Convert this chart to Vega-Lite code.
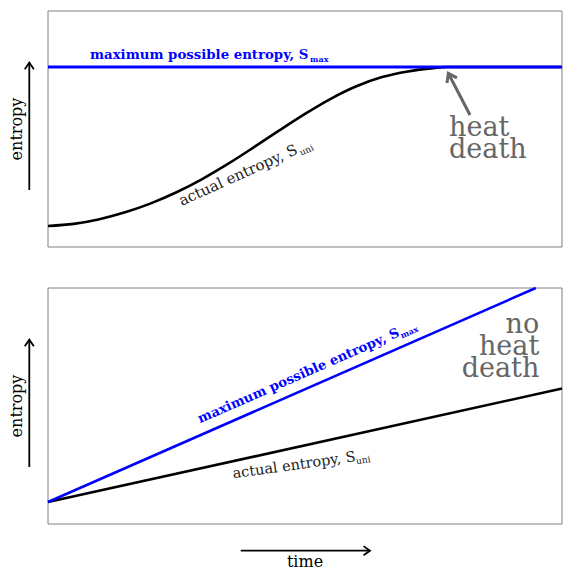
{
  "$schema": "https://vega.github.io/schema/vega-lite/v6.json",
  "autosize": {"type": "none"},
  "padding": {"left": 48, "top": 11, "right": 19, "bottom": 55},
  "width": 514,
  "height": 513,
  "background": "white",
  "config": {
    "view": {"stroke": null},
    "text": {"font": "DejaVu Serif"}
  },
  "resolve": {"scale": {"y": "independent"}},
  "layer": [
    {
      "encoding": {
        "x": {"field": "x", "type": "quantitative", "scale": {"domain": [0, 1], "nice": false, "zero": false}, "axis": null},
        "y": {"field": "y", "type": "quantitative", "scale": {"domain": [0, 1], "range": [236, 0], "nice": false, "zero": false}, "axis": null}
      },
      "layer": [
        {
          "data": {"values": [{"x": 0, "x2": 1, "y": 0, "y2": 1}]},
          "mark": {"type": "rect", "fill": null, "filled": false, "stroke": "#808080", "strokeWidth": 1},
          "encoding": {"x2": {"field": "x2"}, "y2": {"field": "y2"}}
        },
        {
          "data": {"values": [
            {"x": 0, "y": 0.089}, {"x": 0.05, "y": 0.098}, {"x": 0.1, "y": 0.118},
            {"x": 0.15, "y": 0.147}, {"x": 0.2, "y": 0.185}, {"x": 0.25, "y": 0.232},
            {"x": 0.3, "y": 0.288}, {"x": 0.35, "y": 0.352}, {"x": 0.4, "y": 0.422},
            {"x": 0.45, "y": 0.494}, {"x": 0.5, "y": 0.564}, {"x": 0.55, "y": 0.628},
            {"x": 0.6, "y": 0.681}, {"x": 0.65, "y": 0.72}, {"x": 0.7, "y": 0.744},
            {"x": 0.75, "y": 0.758}, {"x": 0.7763, "y": 0.7627}, {"x": 1, "y": 0.7627}
          ]},
          "mark": {"type": "line", "color": "black", "strokeWidth": 2.6, "interpolate": "monotone"}
        },
        {
          "data": {"values": [{"x": 0, "y": 0.7627}, {"x": 1, "y": 0.7627}]},
          "mark": {"type": "line", "color": "#0000ff", "strokeWidth": 2.8}
        },
        {
          "data": {"values": [{"x": 0.0817, "y": 0.7966, "label": "maximum possible entropy, S"}]},
          "mark": {"type": "text", "color": "#0000ff", "fontSize": 13.3, "fontWeight": "bold", "align": "left", "baseline": "alphabetic"},
          "encoding": {"text": {"field": "label"}}
        },
        {
          "data": {"values": [{"x": 0.5097, "y": 0.7839, "label": "max"}]},
          "mark": {"type": "text", "color": "#0000ff", "fontSize": 8, "fontWeight": "bold", "align": "left", "baseline": "alphabetic"},
          "encoding": {"text": {"field": "label"}}
        },
        {
          "data": {"values": [{"x": 0.2601, "y": 0.1737, "label": "actual entropy, S"}]},
          "mark": {"type": "text", "color": "#222222", "fontSize": 15, "angle": -24.3, "align": "left", "baseline": "alphabetic"},
          "encoding": {"text": {"field": "label"}}
        },
        {
          "data": {"values": [{"x": 0.4928, "y": 0.3864, "label": "uni"}]},
          "mark": {"type": "text", "color": "#222222", "fontSize": 9, "angle": -24.3, "align": "left", "baseline": "alphabetic"},
          "encoding": {"text": {"field": "label"}}
        },
        {
          "data": {"values": [{"x": 0.7802, "y": 0.4703, "label": "heat\ndeath"}]},
          "mark": {"type": "text", "color": "#666666", "fontSize": 27, "lineBreak": "\n", "lineHeight": 22, "align": "left", "baseline": "alphabetic"},
          "encoding": {"text": {"field": "label"}}
        },
        {
          "data": {"values": [{"x": 0.821, "y": 0.5593, "x2": 0.7788, "y2": 0.736}]},
          "mark": {"type": "rule", "color": "#666666", "strokeWidth": 3},
          "encoding": {"x2": {"field": "x2"}, "y2": {"field": "y2"}}
        },
        {
          "data": {"values": [{"x": 0.7788, "y": 0.736}]},
          "mark": {"type": "point", "shape": "M-0.7,1L0,0L0.7,1", "size": 256, "angle": -27.5, "stroke": "#666666", "strokeWidth": 3, "filled": false, "opacity": 1, "strokeJoin": "miter"}
        },
        {
          "data": {"values": [{"x": -0.0603, "y": 0.5, "label": "entropy"}]},
          "mark": {"type": "text", "color": "black", "fontSize": 16, "angle": 270, "align": "center", "baseline": "middle"},
          "encoding": {"text": {"field": "label"}}
        },
        {
          "data": {"values": [{"x": -0.0364, "y": 0.2415, "y2": 0.781}]},
          "mark": {"type": "rule", "color": "black", "strokeWidth": 1.8},
          "encoding": {"y2": {"field": "y2"}}
        },
        {
          "data": {"values": [{"x": -0.0364, "y": 0.781}]},
          "mark": {"type": "point", "shape": "M-0.7,1L0,0L0.7,1", "size": 169, "angle": 0, "stroke": "black", "strokeWidth": 1.8, "filled": false, "opacity": 1}
        }
      ]
    },
    {
      "encoding": {
        "x": {"field": "x", "type": "quantitative", "scale": {"domain": [0, 1], "nice": false, "zero": false}, "axis": null},
        "y": {"field": "y", "type": "quantitative", "scale": {"domain": [0, 1], "range": [513, 277], "nice": false, "zero": false}, "axis": null}
      },
      "layer": [
        {
          "data": {"values": [{"x": 0, "x2": 1, "y": 0, "y2": 1}]},
          "mark": {"type": "rect", "fill": null, "filled": false, "stroke": "#808080", "strokeWidth": 1},
          "encoding": {"x2": {"field": "x2"}, "y2": {"field": "y2"}}
        },
        {
          "data": {"values": [{"x": 0, "y": 0.093}, {"x": 1, "y": 0.574}]},
          "mark": {"type": "line", "color": "black", "strokeWidth": 2.6}
        },
        {
          "data": {"values": [{"x": 0, "y": 0.093}, {"x": 0.949, "y": 1.0}]},
          "mark": {"type": "line", "color": "#0000ff", "strokeWidth": 2.6}
        },
        {
          "data": {"values": [{"x": 0.2957, "y": 0.4267, "label": "maximum possible entropy, S"}]},
          "mark": {"type": "text", "color": "#0000ff", "fontSize": 13.3, "fontWeight": "bold", "angle": -23.6, "align": "left", "baseline": "alphabetic"},
          "encoding": {"text": {"field": "label"}}
        },
        {
          "data": {"values": [{"x": 0.6885, "y": 0.7864, "label": "max"}]},
          "mark": {"type": "text", "color": "#0000ff", "fontSize": 8, "fontWeight": "bold", "angle": -23.6, "align": "left", "baseline": "alphabetic"},
          "encoding": {"text": {"field": "label"}}
        },
        {
          "data": {"values": [{"x": 0.3605, "y": 0.1936, "label": "actual entropy, S"}]},
          "mark": {"type": "text", "color": "#222222", "fontSize": 14.5, "angle": -8, "align": "left", "baseline": "alphabetic"},
          "encoding": {"text": {"field": "label"}}
        },
        {
          "data": {"values": [{"x": 0.6, "y": 0.2535, "label": "uni"}]},
          "mark": {"type": "text", "color": "#222222", "fontSize": 9, "angle": -8, "align": "left", "baseline": "alphabetic"},
          "encoding": {"text": {"field": "label"}}
        },
        {
          "data": {"values": [{"x": 0.9558, "y": 0.8106, "label": "no\nheat\ndeath"}]},
          "mark": {"type": "text", "color": "#666666", "fontSize": 27, "lineBreak": "\n", "lineHeight": 22, "align": "right", "baseline": "alphabetic"},
          "encoding": {"text": {"field": "label"}}
        },
        {
          "data": {"values": [{"x": -0.0603, "y": 0.5, "label": "entropy"}]},
          "mark": {"type": "text", "color": "black", "fontSize": 16, "angle": 270, "align": "center", "baseline": "middle"},
          "encoding": {"text": {"field": "label"}}
        },
        {
          "data": {"values": [{"x": -0.0364, "y": 0.2415, "y2": 0.781}]},
          "mark": {"type": "rule", "color": "black", "strokeWidth": 1.8},
          "encoding": {"y2": {"field": "y2"}}
        },
        {
          "data": {"values": [{"x": -0.0364, "y": 0.781}]},
          "mark": {"type": "point", "shape": "M-0.7,1L0,0L0.7,1", "size": 169, "angle": 0, "stroke": "black", "strokeWidth": 1.8, "filled": false, "opacity": 1}
        },
        {
          "data": {"values": [{"x": 0.375, "y": -0.113, "x2": 0.6265}]},
          "mark": {"type": "rule", "color": "black", "strokeWidth": 1.8},
          "encoding": {"x2": {"field": "x2"}}
        },
        {
          "data": {"values": [{"x": 0.6265, "y": -0.113}]},
          "mark": {"type": "point", "shape": "M-0.7,1L0,0L0.7,1", "size": 169, "angle": 90, "stroke": "black", "strokeWidth": 1.8, "filled": false, "opacity": 1}
        },
        {
          "data": {"values": [{"x": 0.5, "y": -0.1835, "label": "time"}]},
          "mark": {"type": "text", "color": "black", "fontSize": 16, "align": "center", "baseline": "alphabetic"},
          "encoding": {"text": {"field": "label"}}
        }
      ]
    }
  ]
}
